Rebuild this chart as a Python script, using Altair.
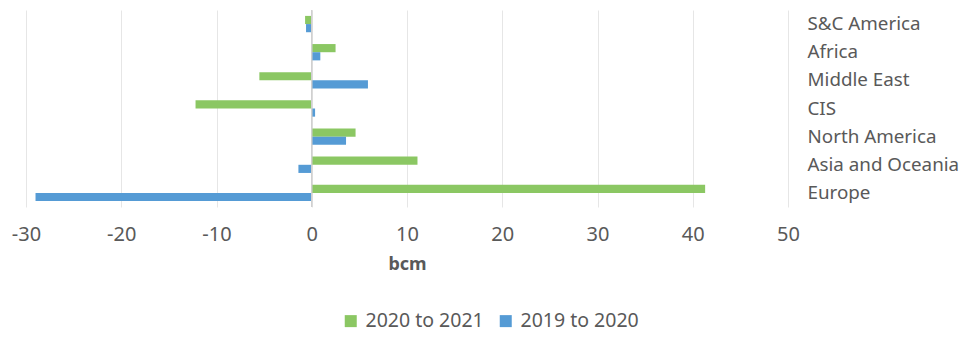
import altair as alt
import pandas as pd

regions = ["S&C America", "Africa", "Middle East", "CIS", "North America", "Asia and Oceania", "Europe"]
v_2021 = [-0.7, 2.5, -5.5, -12.2, 4.6, 11.1, 41.3]
v_2020 = [-0.6, 0.9, 5.9, 0.35, 3.6, -1.4, -29.0]
series = ["2020 to 2021", "2019 to 2020"]
colors = ["#8BC763", "#559BD5"]
x_ticks = [-30, -20, -10, 0, 10, 20, 30, 40, 50]

rows = []
for r, a, b in zip(regions, v_2021, v_2020):
    rows.append({"region": r, "series": series[0], "value": a})
    rows.append({"region": r, "series": series[1], "value": b})
df = pd.DataFrame(rows)

FONT = "Noto Sans"
TXT = "#595959"

bars = alt.Chart(df).mark_bar().encode(
    x=alt.X("value:Q", scale=alt.Scale(domain=[-30, 50], nice=False),
            axis=alt.Axis(values=x_ticks, title="bcm", grid=True, labelExpr="'' + datum.value",
                          gridColor="#E6E6E6", domain=False, ticks=False, labelFlush=False,
                          labelPadding=17, labelFontSize=20, labelColor=TXT, labelFont=FONT,
                          titleFont=FONT, titleFontSize=18, titleColor=TXT, titleFontWeight="bold",
                          titlePadding=11)),
    y=alt.Y("region:N", sort=regions, scale=alt.Scale(paddingInner=0.42, paddingOuter=0.21),
            axis=alt.Axis(orient="right", title=None, domain=False, ticks=False, grid=False,
                          labelAlign="left", labelPadding=19, labelFontSize=18.8,
                          labelColor=TXT, labelFont=FONT)),
    yOffset=alt.YOffset("series:N", sort=series, scale=alt.Scale(paddingInner=0, paddingOuter=0)),
    color=alt.Color("series:N", sort=series, scale=alt.Scale(domain=series, range=colors),
                    legend=alt.Legend(orient="none", legendX=315, legendY=301, direction="horizontal",
                                      title=None, symbolType="square", symbolSize=144,
                                      symbolStrokeWidth=0, labelFontSize=19.5, labelColor=TXT,
                                      labelFont=FONT, labelOffset=5, columnPadding=12)),
)

zero = alt.Chart(pd.DataFrame({"x": [0]})).mark_rule(color="#D0D0D0", strokeWidth=1.5).encode(x="x:Q")

chart = alt.layer(bars, zero).properties(
    width=762, height=197,
    background="white",
    autosize=alt.AutoSizeParams(type="none"),
    padding={"left": 18, "top": 2, "right": 171, "bottom": 125},
).configure_view(stroke="transparent", strokeWidth=0)

chart.save("out.html", embed_options={"renderer": "svg", "actions": False})
